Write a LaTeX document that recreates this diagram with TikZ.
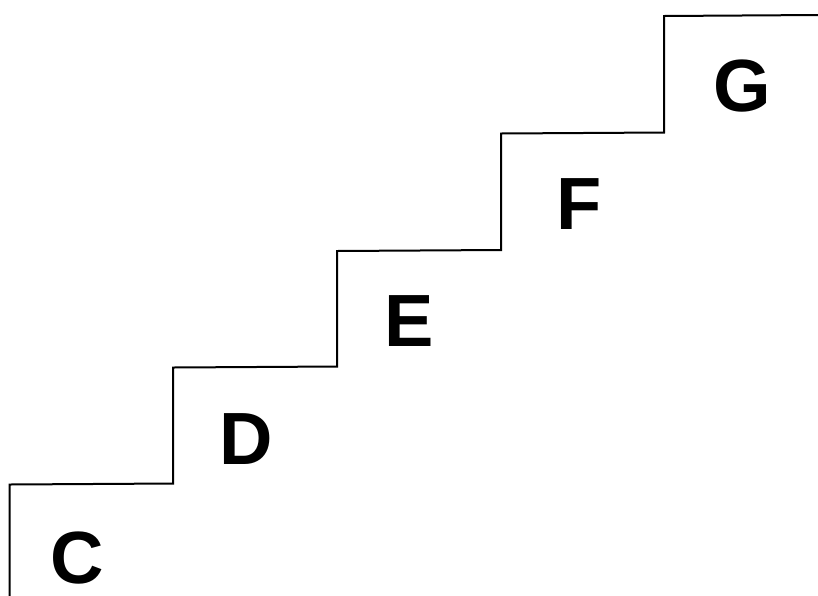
\documentclass[tikz,border=0pt]{standalone}
\usepackage{fontspec}
\setmainfont{Liberation Sans}
\tikzset{
  stair/.style = {line width=2pt, draw=black, line join=miter},
  steplabel/.style = {inner sep=0pt, font=\fontsize{74}{74}\selectfont\bfseries},
}

\begin{document}
\begin{tikzpicture}[x=1pt, y=-1pt]
\useasboundingbox (0,0) rectangle (818,595);
% staircase outline
\coordinate (s0) at (9.5,596);
\coordinate (s1) at (9.5,484.5);
\coordinate (s2) at (173,483.5);
\coordinate (s3) at (173,367.5);
\coordinate (s4) at (337,366.5);
\coordinate (s5) at (337,251);
\coordinate (s6) at (501,250);
\coordinate (s7) at (501,133.5);
\coordinate (s8) at (664,132.5);
\coordinate (s9) at (664,16);
\coordinate (s10) at (819,15);
\draw[stair] (s0) -- (s1) -- (s2) -- (s3) -- (s4) -- (s5) -- (s6) -- (s7) -- (s8) -- (s9) -- (s10);

% note names
\node[steplabel] (c) at (77,558) {C};
\node[steplabel] (d) at (246.5,439.5) {D};
\node[steplabel] (e) at (409,321) {E};
\node[steplabel] (f) at (579.5,204) {F};
\node[steplabel] (g) at (742.5,86) {G};
\end{tikzpicture}
\end{document}
